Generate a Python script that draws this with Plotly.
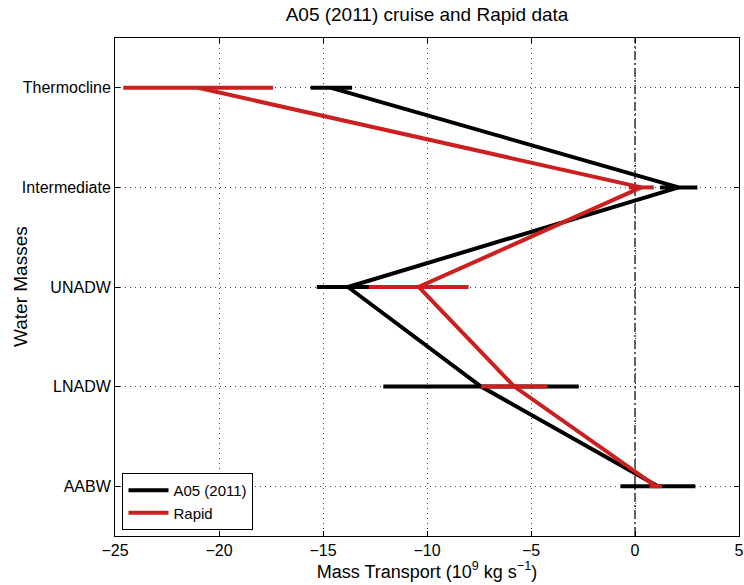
import plotly.graph_objects as go

# Water masses, top to bottom
water_masses = ["Thermocline", "Intermediate", "UNADW", "LNADW", "AABW"]

# Mass transport (10^9 kg/s) and uncertainty for each water mass
a05_transport = [-14.6, 2.1, -13.8, -7.4, 1.1]
a05_error = [1.0, 0.9, 1.5, 4.7, 1.8]

rapid_transport = [-21.0, 0.3, -10.4, -5.8, 1.0]
rapid_error = [3.6, 0.6, 2.4, 1.6, 0.3]

x_ticks = [-25, -20, -15, -10, -5, 0, 5]

# numeric y positions so the first water mass sits at the top
y_pos = list(range(len(water_masses), 0, -1))

FONT = "Liberation Sans, Arial, Helvetica, sans-serif"
BLACK = "#000000"
RED = "#cc1f1f"
GRID = "#444444"

fig = go.Figure()

fig.add_trace(go.Scatter(
    x=a05_transport, y=y_pos, mode="lines", name="A05 (2011)",
    line=dict(color=BLACK, width=4),
    error_x=dict(type="data", array=a05_error, visible=True,
                 color=BLACK, thickness=4, width=0),
))
fig.add_trace(go.Scatter(
    x=rapid_transport, y=y_pos, mode="lines", name="Rapid",
    line=dict(color=RED, width=4),
    error_x=dict(type="data", array=rapid_error, visible=True,
                 color=RED, thickness=4, width=0),
))

# zero-transport reference line
fig.add_vline(x=0, line=dict(color=BLACK, width=1.2, dash="9px,3px,2px,3px"),
              layer="below")

fig.update_layout(
    width=744, height=585,
    margin=dict(l=115, r=5, t=38, b=49),
    paper_bgcolor="white", plot_bgcolor="white",
    font=dict(family=FONT, size=16, color=BLACK),
    title=dict(text="A05 (2011) cruise and Rapid data", x=0.5, xref="paper",
               y=1, yref="container", yanchor="top", pad=dict(t=8),
               font=dict(size=19, family=FONT, color=BLACK)),
    showlegend=True,
    legend=dict(x=0.012, y=0.012, xanchor="left", yanchor="bottom",
                bgcolor="white", bordercolor=BLACK, borderwidth=1,
                font=dict(size=15, family=FONT), tracegroupgap=0,
                itemwidth=40),
    annotations=[dict(
        text="Water Masses", textangle=-90, showarrow=False,
        xref="paper", yref="paper", x=0, y=0.5, xanchor="center", yanchor="middle",
        xshift=-95, font=dict(size=19, family=FONT, color=BLACK),
    )],
)

fig.update_xaxes(
    range=[-25, 5], tickvals=x_ticks, automargin=False,
    ticktext=[("\u2212" + str(abs(v))) if v < 0 else str(v) for v in x_ticks],
    showline=True, linecolor=BLACK, linewidth=1, mirror="ticks",
    ticks="inside", ticklen=5, tickcolor=BLACK,
    showgrid=True, gridcolor=GRID, griddash="1px,4px", gridwidth=1,
    zeroline=False,
    title=dict(text="Mass Transport (10<sup>9</sup> kg s<sup>\u22121</sup>)",
               font=dict(size=18, family=FONT), standoff=4),
)
fig.update_yaxes(
    range=[0.5, 5.5], tickvals=y_pos, ticktext=water_masses, automargin=False,
    showline=True, linecolor=BLACK, linewidth=1, mirror="ticks",
    ticks="inside", ticklen=5, tickcolor=BLACK,
    showgrid=True, gridcolor=GRID, griddash="1px,4px", gridwidth=1,
    zeroline=False,
)

fig.write_html("out.html")
